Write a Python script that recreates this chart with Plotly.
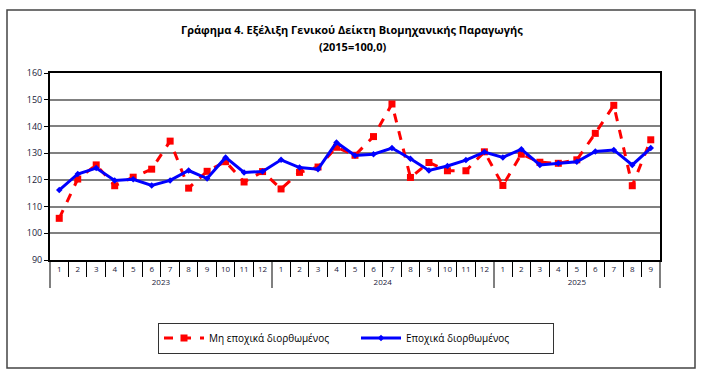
import plotly.graph_objects as go

years = ["2023"] * 12 + ["2024"] * 12 + ["2025"] * 9
months = [str(m) for m in range(1, 13)] * 2 + [str(m) for m in range(1, 10)]

non_sa = [105.6, 120.3, 125.6, 117.8, 121.0, 124.0, 134.5, 116.9, 123.2, 126.8, 119.2, 123.1,
          116.6, 122.8, 124.8, 132.2, 129.2, 136.2, 148.4, 120.9, 126.5, 123.4, 123.4, 130.5,
          117.9, 129.6, 126.6, 126.2, 127.5, 137.4, 147.9, 117.8, 135.0]
sa = [116.2, 122.2, 124.4, 119.8, 120.2, 117.9, 119.8, 123.5, 120.5, 128.4, 122.8, 123.1,
      127.5, 124.6, 124.0, 134.0, 129.1, 129.6, 131.9, 127.9, 123.5, 125.2, 127.4, 130.4,
      128.4, 131.5, 125.6, 126.2, 126.8, 130.6, 131.2, 125.6, 131.9]

name_non_sa = "Μη εποχικά διορθωμένος"
name_sa = "Εποχικά διορθωμένος"
title_line1 = "Γράφημα 4. Εξέλιξη Γενικού Δείκτη Βιομηχανικής Παραγωγής"
title_line2 = "(2015=100,0)"

x = [years, months]

fig = go.Figure()
fig.add_trace(go.Scatter(
    x=x, y=non_sa, name=name_non_sa, mode="lines+markers",
    line=dict(color="#FF0000", width=3, dash="dash"),
    marker=dict(symbol="square", size=7, color="#FF0000"),
))
fig.add_trace(go.Scatter(
    x=x, y=sa, name=name_sa, mode="lines+markers",
    line=dict(color="#0000FF", width=3),
    marker=dict(symbol="diamond", size=5, color="#0000FF"),
))

l, r, t, b = 50, 41, 73, 116
W, H = 701, 376
pw, ph = W - l - r, H - t - b

def px_x(p):
    return (p - l) / pw

def px_y(p):
    return (H - b - p) / ph

fig.update_layout(
    width=W, height=H,
    margin=dict(l=l, r=r, t=t, b=b, autoexpand=False),
    paper_bgcolor="white", plot_bgcolor="white",
    font=dict(family="Open Sans, Noto Sans, sans-serif", color="#1a1a2e"),
    showlegend=True,
    legend=dict(orientation="h", x=px_x(356), xanchor="center", y=px_y(338), yanchor="middle",
                bordercolor="#333333", borderwidth=1, bgcolor="white",
                font=dict(size=10, color="#000000"), entrywidth=142, itemwidth=40),
    xaxis=dict(
        type="multicategory", range=[-0.5, 32.5], automargin=False,
        showline=True, linecolor="#000000", linewidth=2, mirror=True,
        ticks="outside", tickson="boundaries", ticklen=15, tickcolor="#000000", tickwidth=1,
        tickangle=0,
        showdividers=True, dividercolor="#808080", dividerwidth=2,
        tickfont=dict(size=8, color="#1a1a3a"),
        showgrid=False,
    ),
    yaxis=dict(
        range=[90, 160], dtick=10, tick0=90, automargin=False,
        showline=True, linecolor="#000000", linewidth=2, mirror=True,
        ticks="outside", ticklen=4, tickcolor="#000000",
        showgrid=True, gridcolor="#808080", gridwidth=1.5,
        tickfont=dict(size=9, color="#1a1a3a"),
        zeroline=False,
    ),
)

for txt, py in ((title_line1, 30), (title_line2, 46)):
    fig.add_annotation(text="<b>" + txt + "</b>", xref="paper", yref="paper",
                       x=px_x(352), y=px_y(py), xanchor="center", yanchor="middle",
                       showarrow=False, font=dict(size=11, color="#000000"))

fig.add_shape(type="rect", xref="paper", yref="paper",
              x0=px_x(7), x1=px_x(695), y0=px_y(368), y1=px_y(10),
              line=dict(color="#444444", width=1.5), fillcolor="rgba(0,0,0,0)", layer="below")

fig.write_html("out.html", config={"displayModeBar": False},
               post_script="document.body.style.margin='0';")
